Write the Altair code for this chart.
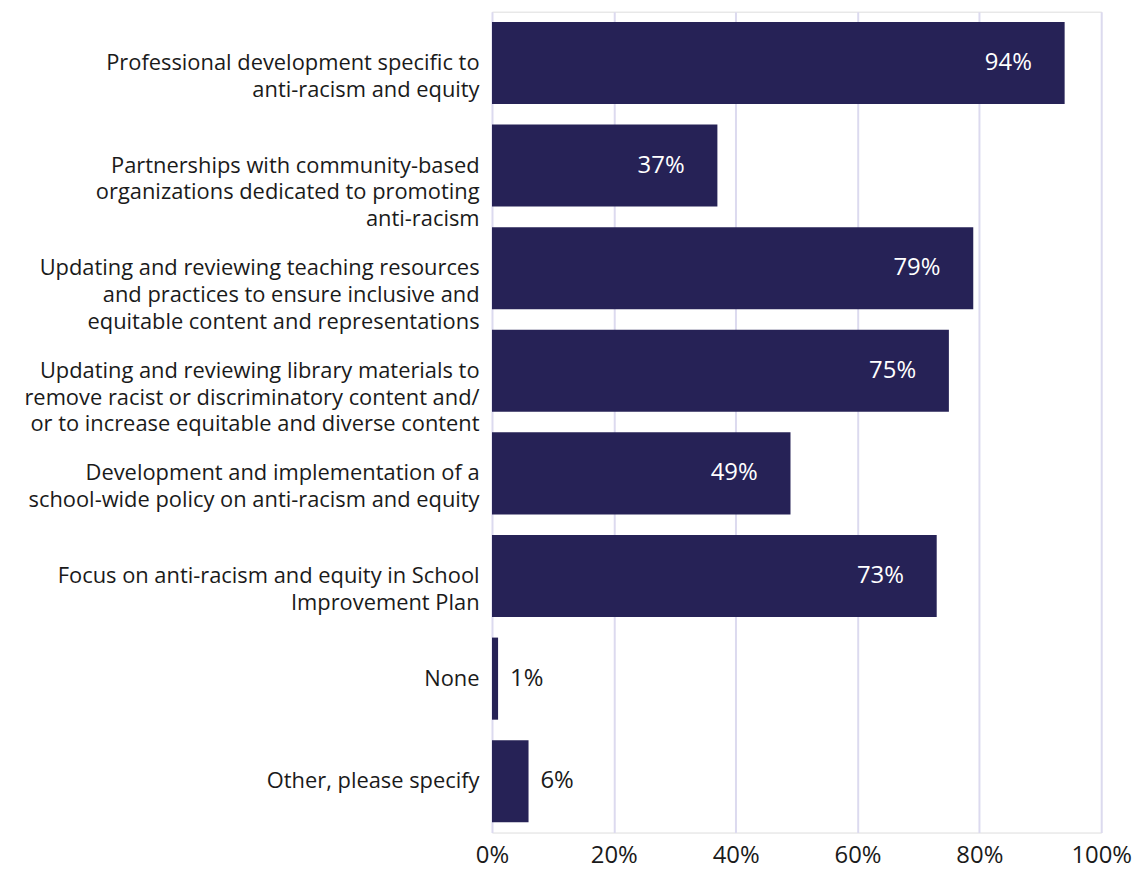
import altair as alt
import pandas as pd

categories = [
    "Professional development specific to|anti-racism and equity",
    "Partnerships with community-based|organizations dedicated to promoting|anti-racism",
    "Updating and reviewing teaching resources|and practices to ensure inclusive and|equitable content and representations",
    "Updating and reviewing library materials to|remove racist or discriminatory content and/|or to increase equitable and diverse content",
    "Development and implementation of a|school-wide policy on anti-racism and equity",
    "Focus on anti-racism and equity in School|Improvement Plan",
    "None",
    "Other, please specify",
]
values = [94, 37, 79, 75, 49, 73, 1, 6]
tick_values = [0, 20, 40, 60, 80, 100]

df = pd.DataFrame({"cat": categories, "val": values})
df["lbl"] = df["val"].astype(str) + "%"

FONT = "Open Sans"
BAR = "#262256"
TXT = "#1a1a1a"

base = alt.Chart(df).encode(
    y=alt.Y("cat:N", sort=None, title=None,
            scale=alt.Scale(paddingInner=0.2, paddingOuter=0.1),
            axis=alt.Axis(labelExpr="split(datum.label, '|')", labelFontSize=22,
                          labelLineHeight=27, labelColor=TXT, labelFont=FONT,
                          ticks=False, domain=False, labelPadding=13, labelLimit=600,
                          grid=False, minExtent=487, maxExtent=487)),
)

bars = base.mark_bar(color=BAR).encode(
    x=alt.X("val:Q", title=None, scale=alt.Scale(domain=[0, 100]),
            axis=alt.Axis(values=tick_values, labelExpr="datum.value + '%'",
                          labelFontSize=24, labelColor=TXT, labelFont=FONT,
                          labelFlush=False,
                          ticks=False, domain=False, labelPadding=11,
                          grid=True, gridColor="#dcdaef", gridWidth=2)),
)

inside = base.transform_filter("datum.val >= 10").mark_text(
    align="right", dx=-33, color="white", fontSize=24, font=FONT
).encode(x="val:Q", text="lbl:N")

outside = base.transform_filter("datum.val < 10").mark_text(
    align="left", dx=12, color=TXT, fontSize=24, font=FONT
).encode(x="val:Q", text="lbl:N")

chart = (bars + inside + outside).properties(
    width=613, height=826,
    padding={"left": 0, "top": 1, "right": 0, "bottom": 0},
).configure_view(stroke=None).configure(background="white")

chart.save("out.html", embed_options={"renderer": "svg", "actions": False})
